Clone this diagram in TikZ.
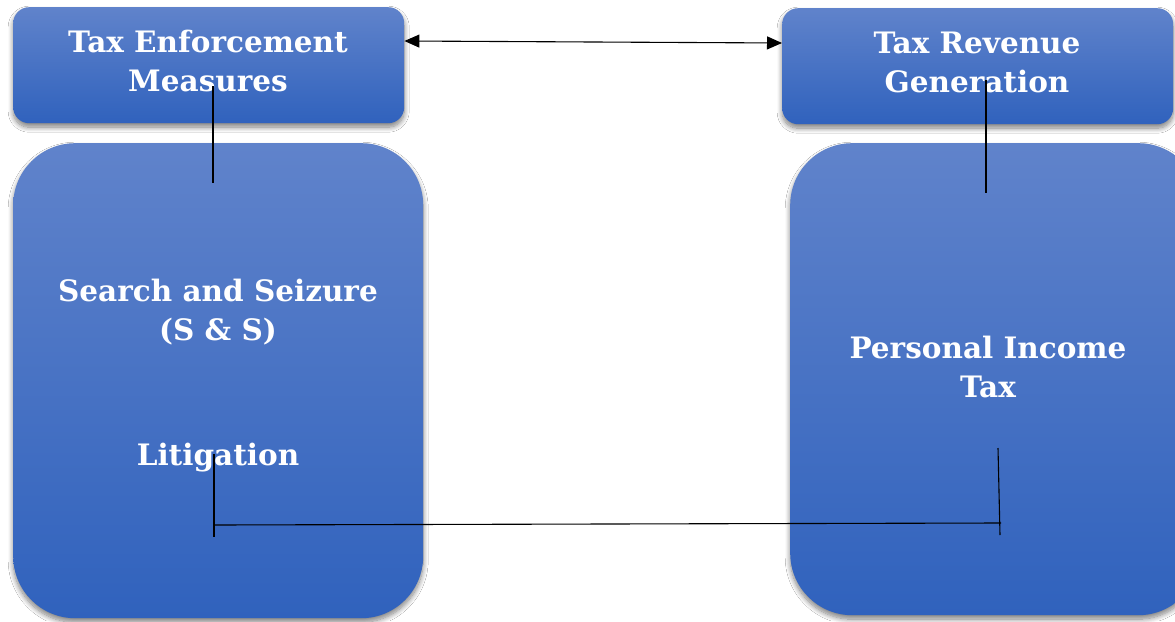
\documentclass[tikz,border=0pt]{standalone}
\usepackage{fontspec}
\setmainfont{DejaVu Serif}
\usetikzlibrary{shadows.blur,arrows.meta}
\definecolor{boxtop}{HTML}{6083CB}
\definecolor{boxbot}{HTML}{3062BD}
\tikzset{
  smallbox/.style={rounded corners=16pt, top color=boxtop, bottom color=boxbot, draw=none,
    blur shadow={shadow xshift=0pt, shadow yshift=-4pt, shadow blur steps=10, shadow blur radius=5pt, shadow opacity=50},
    minimum width=391pt, minimum height=116pt, inner sep=0pt, anchor=north west},
  bigbox/.style={rounded corners=62pt, top color=boxtop, bottom color=boxbot, draw=none,
    blur shadow={shadow xshift=0pt, shadow yshift=-4pt, shadow blur steps=10, shadow blur radius=5pt, shadow opacity=50},
    minimum width=410pt, minimum height=475pt, inner sep=0pt, anchor=north west},
  lbl/.style={text=white, font=\bfseries\fontsize{29.5}{39}\selectfont, align=center, inner sep=0pt},
  conn/.style={draw=black, line width=1.1pt},
}
\begin{document}
\begin{tikzpicture}[x=1pt,y=1pt]
\useasboundingbox (0,0) rectangle (1175,-621);
\fill[white] (0,0) rectangle (1175,-621);
% boxes
\node[smallbox] (tem) at (13,-7) {};
\node[smallbox] (trg) at (782,-8) {};
\node[bigbox] (lbig) at (13,-143) {};
\node[bigbox, minimum height=472pt] (rbig) at (790,-143) {};
% texts (base = baseline of the last line)
\node[lbl, anchor=base] (temt) at (208,-91) {Tax Enforcement\\Measures};
\node[lbl, anchor=base] (trgt) at (977,-92) {Tax Revenue\\Generation};
\node[lbl, anchor=base] (ss) at (218,-340) {Search and Seizure\\(S \& S)};
\node[lbl, anchor=base] (lit) at (218,-465) {Litigation};
\node[lbl, anchor=base] (pit) at (988,-397) {Personal Income\\Tax};
% connector coordinates
\coordinate (a1) at (213,-86);
\coordinate (a2) at (213,-183);
\coordinate (b1) at (986,-80);
\coordinate (b2) at (986,-193);
\coordinate (c1) at (214,-454);
\coordinate (c2) at (214,-537);
\coordinate (h1) at (214,-525);
\coordinate (h2) at (1001,-523);
\coordinate (d1) at (998,-448);
\coordinate (d2) at (1000,-535);
% connectors
\draw[conn, {Triangle[length=15pt,width=13pt]}-{Triangle[length=15pt,width=13pt]}] (tem.east |- 0,-41) -- (trg.west |- 0,-43);
\draw[conn] (a1) -- (a2);
\draw[conn] (b1) -- (b2);
\draw[conn] (c1) -- (c2);
\draw[conn] (h1) -- (h2);
\draw[conn] (d1) -- (d2);
\end{tikzpicture}
\end{document}
